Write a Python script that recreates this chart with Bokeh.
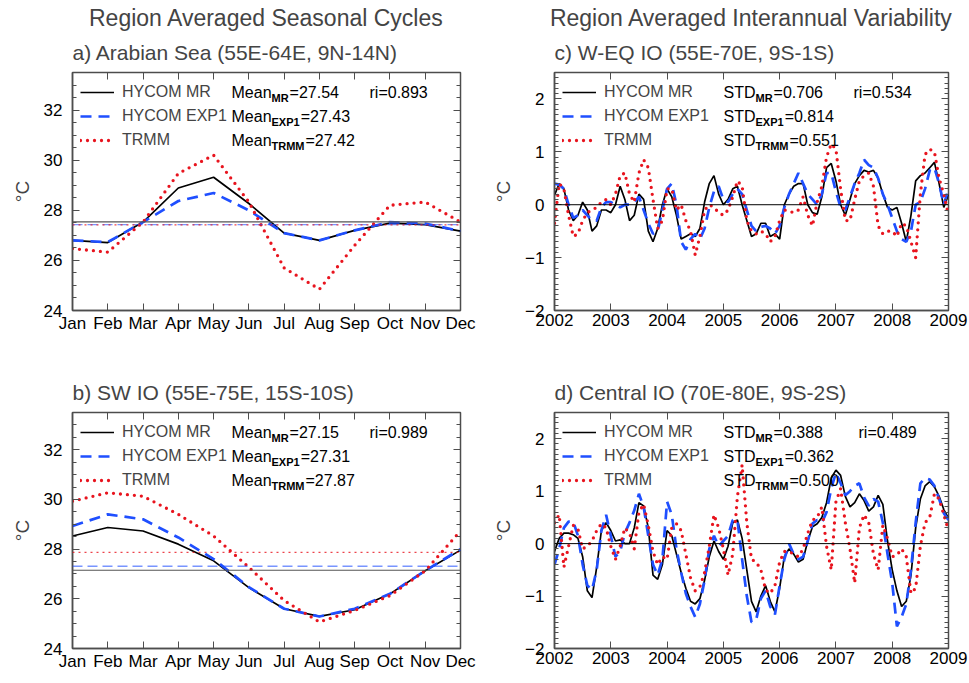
from bokeh.plotting import figure
from bokeh.layouts import row, column
from bokeh.models import (FixedTicker, SingleIntervalTicker, LinearAxis, Span, Legend,
                          LegendItem, Label, Title, Range1d)
from bokeh.embed import file_html
from bokeh.resources import INLINE

# ---------------------------------------------------------------- data
MONTH_LABELS = ["Jan", "Feb", "Mar", "Apr", "May", "Jun",
                "Jul", "Aug", "Sep", "Oct", "Nov", "Dec"]
MONTH_IDX = list(range(1, 13))
YEAR_TICKS = [2002, 2003, 2004, 2005, 2006, 2007, 2008, 2009]

# a) Arabian Sea seasonal cycle (deg C)
A_MR = [26.80, 26.71, 27.53, 28.89, 29.32, 28.27, 27.09, 26.80, 27.20, 27.49, 27.43, 27.17]
A_EXP1 = [26.80, 26.73, 27.53, 28.37, 28.69, 28.00, 27.09, 26.80, 27.20, 27.53, 27.47, 27.17]
A_TRMM = [26.47, 26.33, 27.53, 29.47, 30.20, 28.33, 25.70, 24.85, 26.60, 28.20, 28.33, 27.53]
A_MEAN = [27.54, 27.43, 27.42]
A_RI = 0.893

# b) SW IO seasonal cycle (deg C)
B_MR = [28.53, 28.87, 28.73, 28.20, 27.53, 26.45, 25.60, 25.29, 25.56, 26.20, 27.13, 27.96]
B_EXP1 = [28.93, 29.40, 29.20, 28.47, 27.60, 26.47, 25.60, 25.29, 25.60, 26.20, 27.13, 28.00]
B_TRMM = [29.93, 30.27, 30.13, 29.40, 28.53, 27.27, 25.93, 25.07, 25.53, 26.13, 27.13, 28.73]
B_MEAN = [27.15, 27.31, 27.87]
B_RI = 0.989

# c) W-EQ IO monthly anomalies, Jan 2002 - Jan 2009 (deg C)
C_MR = [0.18, 0.40, 0.30, -0.10, -0.30, -0.20, 0.05, -0.10, -0.50, -0.40, -0.10, -0.10,
        -0.15, 0.00, 0.35, 0.10, -0.30, -0.20, 0.20, 0.10, -0.50, -0.70, -0.45, 0.00,
        0.30, 0.15, -0.20, -0.65, -0.60, -0.55, -0.60, -0.45, 0.05, 0.40, 0.55, 0.20,
        0.00, 0.10, 0.30, 0.35, 0.00, -0.30, -0.60, -0.55, -0.35, -0.35, -0.60, -0.55,
        -0.65, 0.00, 0.20, 0.35, 0.40, 0.40, 0.00, -0.15, -0.18, 0.15, 0.70, 0.78,
        0.45, 0.00, -0.20, 0.10, 0.40, 0.55, 0.65, 0.62, 0.65, 0.50, 0.20, -0.05,
        -0.10, -0.05, -0.35, -0.70, -0.20, 0.45, 0.55, 0.60, 0.70, 0.80, 0.40, -0.05, 0.20]
C_EXP1 = [0.40, 0.38, 0.30, 0.00, -0.25, -0.20, -0.10, -0.20, -0.30, -0.30, -0.05, 0.05,
          0.05, 0.00, -0.05, 0.00, 0.00, 0.05, 0.15, -0.10, -0.35, -0.55, -0.50, -0.10,
          0.30, 0.40, 0.00, -0.70, -0.85, -0.65, -0.55, -0.65, -0.45, -0.05, 0.25, 0.35,
          0.10, 0.05, 0.20, 0.30, 0.20, -0.10, -0.40, -0.50, -0.42, -0.40, -0.45, -0.55,
          -0.40, -0.05, 0.20, 0.40, 0.60, 0.40, 0.20, 0.10, 0.00, 0.20, 0.60, 0.60,
          0.25, -0.05, -0.10, 0.15, 0.40, 0.60, 0.85, 0.75, 0.70, 0.50, 0.20, 0.00,
          -0.25, -0.50, -0.65, -0.70, -0.50, 0.00, 0.05, 0.30, 0.65, 0.70, 0.40, 0.00, 0.30]
C_TRMM = [-0.35, 0.40, 0.30, -0.20, -0.60, -0.55, -0.30, -0.15, -0.10, -0.05, 0.05, 0.10,
          0.00, 0.20, 0.55, 0.60, 0.20, 0.05, 0.60, 0.85, 0.70, 0.10, -0.45, -0.30,
          0.30, 0.30, -0.10, 0.00, -0.30, -0.50, -0.95, -0.60, -0.10, 0.00, -0.05, -0.15,
          -0.20, -0.10, 0.15, 0.45, 0.35, -0.30, -0.50, -0.55, -0.50, -0.55, -0.70, -0.60,
          -0.30, -0.10, -0.12, -0.15, -0.10, 0.15, -0.20, -0.40, 0.05, 0.35, 0.90, 1.15,
          1.05, 0.30, -0.30, -0.30, 0.10, 0.45, 0.55, 0.60, 0.35, -0.40, -0.55, -0.50,
          -0.50, -0.60, -0.35, -0.40, -0.70, -1.00, 0.20, 0.95, 1.05, 1.00, 0.50, 0.20, -0.20]
C_STD = [0.706, 0.814, 0.551]
C_RI = 0.534

# d) Central IO monthly anomalies, Jan 2002 - Jan 2009 (deg C)
D_MR = [-0.15, 0.10, 0.20, 0.20, 0.17, 0.10, -0.25, -0.90, -1.03, -0.45, 0.25, 0.40,
        0.25, 0.05, 0.07, 0.00, 0.00, 0.30, 0.78, 0.72, 0.30, -0.60, -0.68, -0.40,
        0.25, 0.15, -0.20, -0.55, -0.85, -1.10, -1.15, -1.05, -0.70, -0.25, 0.05, -0.15,
        -0.30, -0.05, 0.40, 0.45, 0.10, -0.50, -1.10, -1.30, -1.00, -0.80, -1.10, -1.30,
        -0.85, -0.25, -0.10, -0.20, -0.35, -0.30, 0.05, 0.32, 0.38, 0.50, 0.78, 1.25,
        1.40, 1.30, 0.90, 0.70, 0.78, 0.95, 0.82, 0.62, 0.70, 0.92, 0.75, 0.05,
        -0.50, -0.90, -1.20, -1.10, -0.60, 0.30, 0.85, 1.10, 1.18, 1.08, 0.90, 0.65, 0.48]
D_EXP1 = [-0.40, -0.10, 0.30, 0.42, 0.42, 0.15, -0.40, -0.80, -0.88, -0.50, 0.25, 0.55,
          0.15, -0.25, -0.15, 0.20, 0.40, 0.63, 0.95, 0.70, 0.15, -0.40, -0.60, -0.30,
          0.80, 0.55, -0.10, -0.55, -0.95, -1.20, -1.40, -1.15, -0.70, -0.10, 0.15, -0.05,
          0.05, 0.15, 0.45, 0.45, -0.30, -1.00, -1.50, -1.45, -1.05, -0.90, -1.20, -1.35,
          -0.80, -0.30, 0.00, -0.20, -0.30, -0.25, 0.05, 0.38, 0.45, 0.40, 0.60, 1.05,
          1.35, 1.15, 0.92, 1.00, 1.10, 1.15, 0.88, 0.72, 0.85, 0.80, 0.40, -0.20,
          -0.75, -1.58, -1.40, -1.15, -0.50, 0.40, 1.15, 1.25, 1.22, 1.10, 0.85, 0.58, 0.45]
D_TRMM = [0.40, 0.55, -0.45, -0.05, 0.35, 0.28, -0.10, -0.05, 0.05, 0.25, 0.38, 0.30,
          -0.05, -0.30, -0.05, 0.30, 0.20, -0.10, 0.60, 0.75, 0.35, -0.15, -0.40, -0.25,
          -0.30, 0.30, 0.38, 0.25, -0.20, -0.65, -0.90, -0.82, -0.55, -0.05, 0.55, 0.30,
          -0.10, -0.60, -0.20, 0.90, 1.50, 0.40, -0.30, -0.35, -0.50, -0.88, -0.95, -0.80,
          -0.35, -0.15, -0.15, -0.20, -0.25, -0.10, 0.20, 0.45, 0.50, 0.70, -0.05, -0.50,
          0.80, 1.05, 0.40, -0.10, -0.75, 0.30, 0.55, 0.40, -0.20, -0.50, 0.35, 0.10,
          -0.25, -0.22, -0.10, -0.25, -0.95, -0.85, -0.05, 0.40, 0.50, 0.95, 0.85, 0.55, 0.25]
D_STD = [0.388, 0.362, 0.500]
D_RI = 0.489

# monthly time axis in decimal years
TIME = [YEAR_TICKS[0] + i / 12.0 for i in range(len(C_MR))]

SERIES_NAMES = ["HYCOM MR", "HYCOM EXP1", "TRMM"]
SUBSCRIPTS = ["MR", "EXP1", "TRMM"]

# ---------------------------------------------------------------- style
FONT = "Liberation Sans"
FRAME = "#4d4d4d"
BLACK = "#000000"
BLUE = "#1f4fff"
RED = "#e8141e"

REG_W = {' ': 278, '.': 278, '=': 584, 'M': 833, 'e': 556, 'a': 556, 'n': 556,
         'S': 667, 'T': 611, 'D': 722, 'R': 722, 'E': 667, 'X': 667, 'P': 667,
         'r': 333, 'i': 222}
BOLD_W = {'M': 833, 'R': 722, 'E': 667, 'X': 667, 'P': 667, 'T': 611, '1': 556}


def text_width(s, size, bold=False):
    tbl = BOLD_W if bold else REG_W
    return sum(tbl.get(ch, 556) for ch in s) * size / 1000.0


def make_panel(width, height, borders, x_range, y_range, x_ticker, y_ticker,
               main_title, sub_title, month_axis):
    left, right, top, bottom = borders
    p = figure(width=width, height=height, x_range=x_range, y_range=y_range,
               output_backend="svg", toolbar_location=None,
               min_border_left=left, min_border_right=right,
               min_border_top=top, min_border_bottom=bottom)
    p.background_fill_color = "white"
    p.border_fill_color = "white"
    p.xgrid.visible = False
    p.ygrid.visible = False
    p.outline_line_color = FRAME
    p.outline_line_width = 1.5

    # bottom axis
    xa = p.xaxis[0]
    xa.ticker = x_ticker
    if month_axis:
        xa.major_label_overrides = {m: lab for m, lab in zip(MONTH_IDX, MONTH_LABELS)}
    # left axis
    ya = p.yaxis[0]
    ya.ticker = y_ticker
    ya.axis_label = "°C"
    ya.axis_label_text_font = FONT
    ya.axis_label_text_font_size = "19px"
    ya.axis_label_text_font_style = "normal"
    ya.axis_label_standoff = 8
    for ax in (xa, ya):
        ax.axis_line_color = FRAME
        ax.axis_line_width = 1.5
        ax.major_tick_in = 7
        ax.major_tick_out = 0
        ax.minor_tick_in = 4
        ax.minor_tick_out = 0
        ax.major_tick_line_color = FRAME
        ax.minor_tick_line_color = FRAME
        ax.major_label_text_font = FONT
        ax.major_label_text_font_size = "17px"
        ax.major_label_text_color = "black"
    xa.minor_tick_line_color = None
    xa.major_label_standoff = 3
    ya.major_label_standoff = 10

    # mirrored tick marks on top and right, without labels
    top_ax = LinearAxis(ticker=x_ticker)
    right_ax = LinearAxis(ticker=y_ticker)
    for ax in (top_ax, right_ax):
        ax.axis_line_color = None
        ax.major_tick_in = 7
        ax.major_tick_out = 0
        ax.minor_tick_in = 4
        ax.minor_tick_out = 0
        ax.major_tick_line_color = FRAME
        ax.minor_tick_line_color = FRAME
        ax.major_label_text_color = None
        ax.major_label_text_font_size = "1px"
        ax.major_label_standoff = 0
    top_ax.minor_tick_line_color = None
    p.add_layout(top_ax, "above")
    p.add_layout(right_ax, "right")

    sub = Title(text=sub_title, align="left", text_font=FONT, text_font_size="21px",
                text_font_style="normal", standoff=17)
    p.add_layout(sub, "above")
    if main_title:
        p.title.text = main_title
        p.title.align = "center"
        p.title.text_font = FONT
        p.title.text_font_size = "23px"
        p.title.text_font_style = "normal"
        p.title.standoff = 0
    return p


def add_series(p, x, mr, exp1, trmm):
    r1 = p.line(x, mr, line_color=BLACK, line_width=1.7)
    r2 = p.line(x, exp1, line_color=BLUE, line_width=2.7, line_dash="11 7")
    r3 = p.line(x, trmm, line_color=RED, line_width=3.3, line_dash="0 7",
                line_cap="round")
    legend = Legend(items=[LegendItem(label=n, renderers=[r])
                           for n, r in zip(SERIES_NAMES, (r1, r2, r3))],
                    location="top_left", margin=8, padding=0, spacing=0,
                    glyph_width=34, glyph_height=24, label_height=24,
                    label_standoff=8, label_text_font=FONT,
                    label_text_font_size="16px",
                    background_fill_alpha=0, border_line_color=None)
    p.add_layout(legend)


ROW_Y = [20, 44, 68]


def add_stats(p, frame_h, col_x, ri_x, head, values, fmt, ri):
    for k, (sub, v) in enumerate(zip(SUBSCRIPTS, values)):
        y = frame_h - ROW_Y[k]
        p.add_layout(Label(x=col_x, y=y, x_units="screen", y_units="screen",
                           text=head, text_font=FONT, text_font_size="16px",
                           text_baseline="middle", text_color="black"))
        x1 = col_x + text_width(head, 16)
        p.add_layout(Label(x=x1, y=y - 5, x_units="screen", y_units="screen",
                           text=sub, text_font=FONT, text_font_size="11px",
                           text_font_style="bold", text_baseline="middle",
                           text_color="black"))
        x2 = x1 + text_width(sub, 11, True) + 1
        p.add_layout(Label(x=x2, y=y, x_units="screen", y_units="screen",
                           text="=" + fmt.format(v), text_font=FONT,
                           text_font_size="16px", text_baseline="middle",
                           text_color="black"))
    p.add_layout(Label(x=ri_x, y=frame_h - ROW_Y[0], x_units="screen", y_units="screen",
                       text="ri={:.3f}".format(ri), text_font=FONT,
                       text_font_size="16px", text_baseline="middle",
                       text_color="black"))


def add_mean_lines(p, means):
    p.add_layout(Span(location=means[0], dimension="width", line_color="#555555",
                      line_width=1.2))
    p.add_layout(Span(location=means[1], dimension="width", line_color=BLUE,
                      line_alpha=0.6, line_width=1.3, line_dash="10 5"))
    p.add_layout(Span(location=means[2], dimension="width", line_color=RED,
                      line_alpha=0.8, line_width=1.3, line_dash="2 4"))


# ---------------------------------------------------------------- panels
month_ticker = FixedTicker(ticks=MONTH_IDX)
year_ticker = FixedTicker(ticks=YEAR_TICKS)
sst_ticker = SingleIntervalTicker(interval=2, num_minor_ticks=4)
anom_ticker = SingleIntervalTicker(interval=1, num_minor_ticks=10)

# a)
pa = make_panel(490, 360, (72, 30, 72, 50), Range1d(1, 12), Range1d(24, 33.5),
                month_ticker, sst_ticker, "Region Averaged Seasonal Cycles",
                "a) Arabian Sea (55E-64E, 9N-14N)", True)
add_mean_lines(pa, A_MEAN)
add_series(pa, MONTH_IDX, A_MR, A_EXP1, A_TRMM)
add_stats(pa, 238, 159, 297, "Mean", A_MEAN, "{:.2f}", A_RI)

# b)
pb = make_panel(490, 323, (72, 30, 52, 35), Range1d(1, 12), Range1d(24, 33.5),
                month_ticker, sst_ticker, None,
                "b) SW IO (55E-75E, 15S-10S)", True)
add_mean_lines(pb, B_MEAN)
add_series(pb, MONTH_IDX, B_MR, B_EXP1, B_TRMM)
add_stats(pb, 236, 159, 297, "Mean", B_MEAN, "{:.2f}", B_RI)

# c)
pc = make_panel(479, 360, (58, 21, 72, 50), Range1d(2002, 2009), Range1d(-2, 2.5),
                year_ticker, anom_ticker, "Region Averaged Interannual Variability",
                "c) W-EQ IO (55E-70E, 9S-1S)", False)
pc.add_layout(Span(location=0, dimension="width", line_color=BLACK, line_width=1))
add_series(pc, TIME, C_MR, C_EXP1, C_TRMM)
add_stats(pc, 238, 169, 299, "STD", C_STD, "{:.3f}", C_RI)

# d)
pd_ = make_panel(479, 323, (58, 21, 52, 35), Range1d(2002, 2009), Range1d(-2, 2.5),
                 year_ticker, anom_ticker, None,
                 "d) Central IO (70E-80E, 9S-2S)", False)
pd_.add_layout(Span(location=0, dimension="width", line_color=BLACK, line_width=1))
add_series(pd_, TIME, D_MR, D_EXP1, D_TRMM)
add_stats(pd_, 236, 169, 304, "STD", D_STD, "{:.3f}", D_RI)

layout = row(column(pa, pb), column(pc, pd_))

with open("out.html", "w") as f:
    f.write(file_html(layout, INLINE))
